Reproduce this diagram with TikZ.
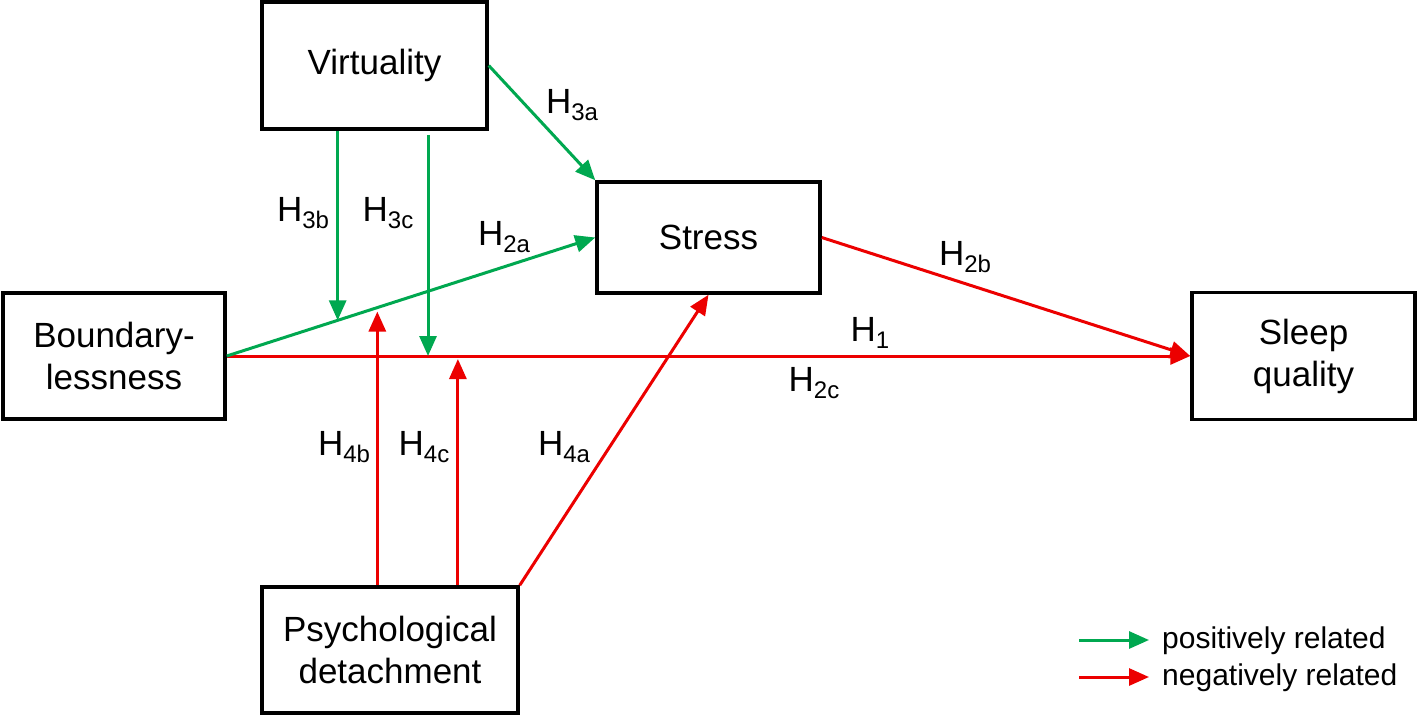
\documentclass[tikz,border=0pt]{standalone}
\usepackage{fontspec}
\setmainfont{Liberation Sans}
\usetikzlibrary{arrows.meta,calc}
\definecolor{posgreen}{RGB}{0,168,80}
\definecolor{negred}{RGB}{236,0,0}
\newcommand\hsub[2]{#1\raisebox{-7pt}{\fontsize{24}{24}\selectfont #2}}
\tikzset{
  box/.style={draw=black,line width=3.5pt,fill=white,align=center,inner sep=0pt,
    font=\fontsize{35}{42}\selectfont},
  posarrow/.style={draw=posgreen,line width=3pt,-{Triangle[length=20pt,width=17pt]}},
  negarrow/.style={draw=negred,line width=3pt,-{Triangle[length=20pt,width=17pt]}},
  hlab/.style={font=\fontsize{35}{40}\selectfont,inner sep=0pt},
  legtext/.style={font=\fontsize{30}{34}\selectfont,anchor=west,inner sep=0pt}
}
\begin{document}
\begin{tikzpicture}[x=1pt,y=-1pt]
\useasboundingbox[fill=white] (0,0) rectangle (1418,718);
% boxes
\node[box,minimum width=225pt,minimum height=127pt] (virt) at (374.5,65.5) {Virtuality};
\node[box,minimum width=223pt,minimum height=111pt] (stress) at (708.5,237.5) {Stress};
\node[box,minimum width=222pt,minimum height=126pt] (bound) at (114,356) {Boundary-\\lessness};
\node[box,minimum width=223pt,minimum height=127pt] (sleep) at (1303.5,356) {Sleep\\quality};
\node[box,minimum width=256pt,minimum height=126pt] (psych) at (390,650) {Psychological\\detachment};
% points on paths
\coordinate (m3b) at ($(bound.east)!0.301!(stress.west)$);
\coordinate (m4b) at ($(bound.east)!0.4086!(stress.west)$);
\coordinate (m3c) at ($(bound.east)!0.2089!(sleep.west)$);
\coordinate (m4c) at ($(bound.east)!0.2399!(sleep.west)$);
% connectors
\draw[negarrow] (bound.east) -- (sleep.west);
\draw[posarrow] (bound.east) -- (stress.west);
\draw[posarrow] (virt.east) -- (stress.north west);
\draw[negarrow] (stress.east) -- (sleep.west);
\draw[posarrow] (virt.south -| m3b) -- (m3b);
\draw[posarrow,shorten <=4pt] (virt.south -| m3c) -- (m3c);
\draw[negarrow,shorten >=4pt] (psych.north -| m4b) -- (m4b);
\draw[negarrow,shorten >=3pt] (psych.north -| m4c) -- (m4c);
\draw[negarrow] (psych.north east) -- (stress.south);
% labels
\node[hlab] (l3a) at (572,105) {\hsub{H}{3a}};
\node[hlab] (l3b) at (303,213) {\hsub{H}{3b}};
\node[hlab] (l3c) at (388,213) {\hsub{H}{3c}};
\node[hlab] (l2a) at (504,237) {\hsub{H}{2a}};
\node[hlab] (l2b) at (965,257) {\hsub{H}{2b}};
\node[hlab] (l1) at (870,333) {\hsub{H}{1}};
\node[hlab] (l2c) at (814,383) {\hsub{H}{2c}};
\node[hlab] (l4b) at (344,447) {\hsub{H}{4b}};
\node[hlab] (l4c) at (424,447) {\hsub{H}{4c}};
\node[hlab] (l4a) at (564,447) {\hsub{H}{4a}};
% legend
\coordinate (gs) at (1079,640);
\coordinate (ge) at (1149,640);
\coordinate (rs) at (1079,677);
\coordinate (re) at (1149,677);
\draw[posarrow] (gs) -- (ge);
\draw[negarrow] (rs) -- (re);
\node[legtext] (tpos) at (1162,641) {positively related};
\node[legtext] (tneg) at (1162,678) {negatively related};
\end{tikzpicture}
\end{document}
